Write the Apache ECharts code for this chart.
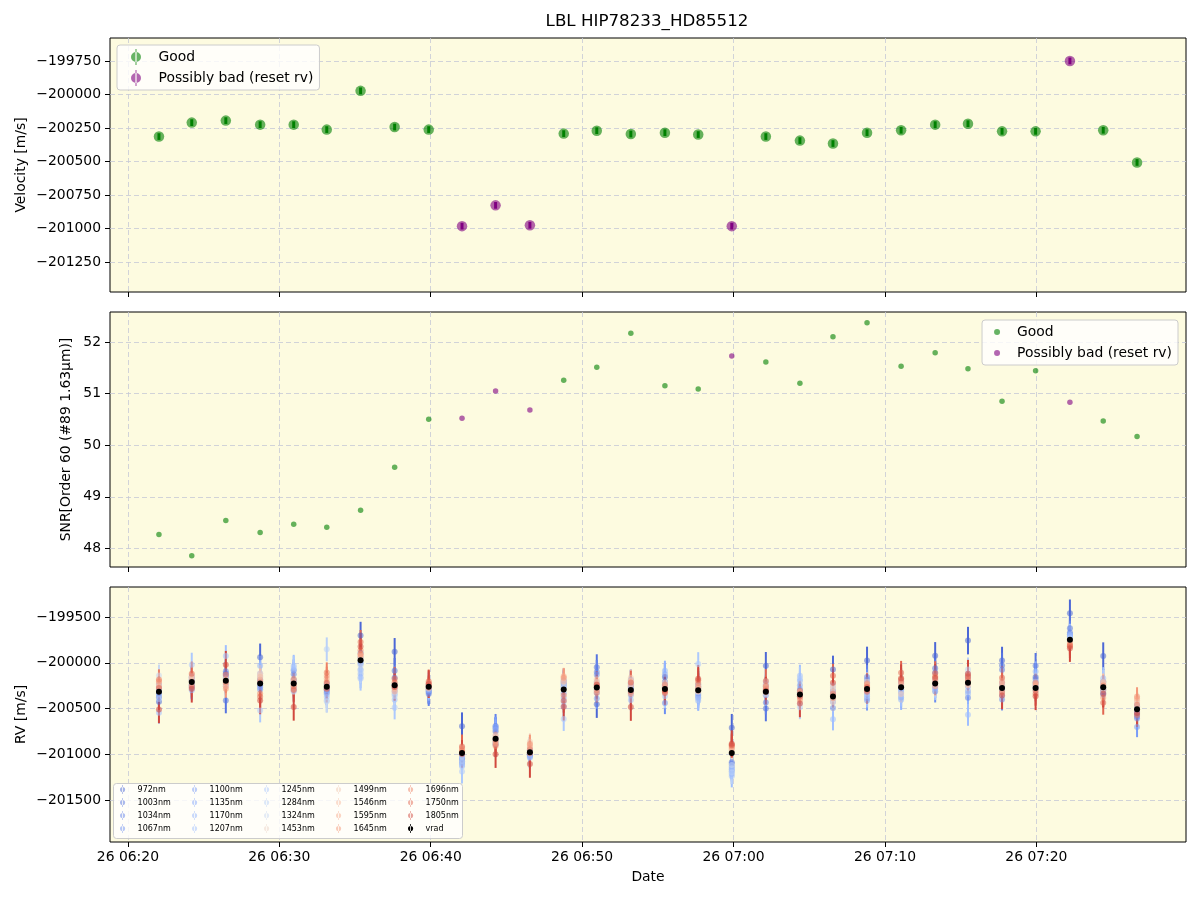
<!DOCTYPE html>
<html>
<head>
<meta charset="utf-8">
<title>LBL HIP78233_HD85512</title>
<script src="https://cdn.jsdelivr.net/npm/echarts@6/dist/echarts.min.js"></script>
<style>
  html, body { margin: 0; padding: 0; background: #fff; }
  #chart { width: 1200px; height: 900px; }
</style>
</head>
<body>
<div id="chart"></div>
<script>
// observation day / times (UTC)
var obsDay = 26;
var obsTimes = ['06:22:03', '06:24:13', '06:26:28', '06:28:44', '06:30:57', '06:33:08', '06:35:22', '06:37:37', '06:39:52', '06:42:04',
  '06:44:17', '06:46:33', '06:48:47', '06:50:58', '06:53:13', '06:55:28', '06:57:40', '06:59:53', '07:02:08', '07:04:23',
  '07:06:34', '07:08:49', '07:11:04', '07:13:19', '07:15:29', '07:17:44', '07:19:57', '07:22:13', '07:24:25', '07:26:39'];
// g = good, b = possibly bad (reset rv)
var flags = ['g', 'g', 'g', 'g', 'g', 'g', 'g', 'g', 'g', 'b', 'b', 'b', 'g', 'g', 'g', 'g', 'g', 'b', 'g', 'g',
  'g', 'g', 'g', 'g', 'g', 'g', 'g', 'b', 'g', 'g'];
var vrad = [-200314, -200210, -200195, -200225, -200225, -200262, -199973, -200243, -200262, -200982,
  -200827, -200975, -200292, -200270, -200295, -200285, -200299, -200982, -200314, -200344,
  -200366, -200285, -200267, -200225, -200218, -200275, -200275, -199750, -200267, -200507];
var vradErr = [25, 25, 25, 25, 25, 25, 25, 25, 25, 25, 25, 25, 25, 25, 25, 25, 25, 25, 25, 25,
  25, 25, 25, 25, 25, 25, 25, 25, 25, 25];
var snr = [48.27, 47.86, 48.54, 48.31, 48.47, 48.41, 48.74, 49.57, 50.50, 50.52, 51.05, 50.68, 51.26, 51.51, 52.17,
  51.15, 51.09, 51.73, 51.61, 51.20, 52.10, 52.37, 51.53, 51.79, 51.48, 50.85, 51.44, 50.83, 50.47, 50.17];

// per-wavelength RV, read as distance (m/s) from the vrad point of each epoch
var waves = [972, 1003, 1034, 1067, 1100, 1135, 1170, 1207, 1245, 1284, 1324, 1453, 1499, 1546, 1595, 1645, 1696, 1750, 1805];
var d972 = [-110, 20, 80, 285, 40, -30, 270, 363, -30, 292, 80, 20, 60, -180, 70, 130, 60, 275, 282, 20, 294, 311, 60, 301, 460, 300, 120, 290, 340, 30];
var d1003 = [-60, -40, -215, 40, 20, -60, 80, 156, -50, -60, -60, -30, 30, 223, 20, 80, 40, -100, -183, -20, 60, 70, 40, 167, 60, 245, 242, 127, 60, -40];
var d1034 = [-20, 50, 104, -20, 100, -10, 30, 80, -78, -90, 140, -40, 100, 170, 40, 40, 20, -120, -118, 40, 20, 130, 10, 120, -163, 200, 100, 80, -30, -80];
var d1067 = [78, -60, 40, -65, 142, 30, -40, 10, -60, -40, 115, -10, 80, 140, -10, -154, -40, -150, 40, 10, -127, 100, -20, -87, 20, -124, 60, 60, -60, -100];
var d1100 = [40, -30, 20, -40, -50, -40, -20, -30, -20, -110, 130, -20, -40, -120, 110, 20, -80, -180, -40, 60, -60, -125, -60, -50, -40, 30, 30, 54, -80, -193];
var d1135 = [10, 30, -40, 20, -80, 20, -100, -60, 10, -60, 100, 10, -90, -60, -20, 160, -60, -200, 10, 100, 10, -100, -110, 40, -90, -40, 10, 30, -20, -60];
var d1170 = [-30, -90, 60, 192, 150, -80, -150, -100, -40, -130, -40, -50, -130, 60, -60, 198, -114, -230, 80, 150, 40, -60, -136, 20, -120, -80, 180, 40, 40, -20];
var d1207 = [-229, 60, 268, 110, 192, -110, -184, -160, -10, -148, -20, -60, -180, 30, -110, -30, -90, -255, 60, 203, -250, -80, -90, -60, -348, 60, 70, 54, 100, 20];
var d1245 = [-80, 190, 30, -294, 170, -148, -200, -243, 20, -203, 30, 40, -320, -20, -40, -80, 285, -170, -20, 170, 120, -40, -40, -30, 100, -20, -20, 20, 60, 40];
var d1284 = [20, -20, -10, 60, -40, 409, -120, -120, 30, -90, -10, 20, 40, 10, 20, 50, 30, -210, 110, -140, 80, -20, 20, 10, 146, 10, 40, 10, 20, 60];
var d1324 = [175, 10, -60, 80, -90, -160, -60, -80, 10, -40, -50, -10, 20, -40, 60, 10, -20, -130, -30, -100, -30, 10, 40, -20, 70, -30, -30, -10, -10, 10];
var d1453 = [60, 40, 20, 90, 10, -20, 20, -30, -20, 40, 20, 60, 80, 20, 90, 70, 60, 30, 50, 30, -60, 80, 10, 30, -30, 40, 20, -20, 30, 30];
var d1499 = [120, 70, -30, 110, 30, 20, 50, 20, 20, 60, -30, 115, 120, 90, 132, 30, 40, 50, 20, -10, 100, 30, -74, 60, 10, 80, -10, -30, 49, 80];
var d1546 = [90, 50, 10, 70, -20, 60, 40, -40, 40, 20, 40, 80, 90, 60, 100, 10, 10, 40, 70, 20, 50, 50, 30, 40, -20, 20, 30, -10, 60, 100];
var d1595 = [50, 10, -60, 40, -60, 90, 70, -70, 30, 50, -40, 50, 147, 40, 50, -20, -10, 60, -10, -40, 10, 40, 70, 10, 40, -50, 50, -40, -30, 120];
var d1645 = [110, -30, -88, 20, 50, 120, 64, -10, 10, 30, -60, 90, 130, -30, -42, -30, 30, 70, 30, -60, -20, 60, 50, -30, 80, 60, 61, -50, -114, 141];
var d1696 = [133, -50, -20, -110, -30, 157, 110, 30, -10, 10, -80, 30, -60, -56, -20, 49, 80, 90, 60, 40, 30, -10, 86, 80, 30, -40, -30, -60, 20, 50];
var d1750 = [40, 92, 65, -145, -70, 44, 201, 69, 59, 71, -10, -10, -121, 10, 80, -45, 110, 83, 115, -20, 225, -30, 158, 112, 66, 112, -62, -70, -168, -62];
var d1805 = [-194, -73, 175, -185, -255, -20, 150, -20, 30, -10, -168, -127, -186, 30, -187, -10, 125, 100, 10, -99, 150, 20, 100, 60, 100, -80, -90, -90, -70, -40];
var waveOffsets = [d972, d1003, d1034, d1067, d1100, d1135, d1170, d1207, d1245, d1284, d1324, d1453, d1499, d1546, d1595, d1645, d1696, d1750, d1805];
var waveErr = [150, 140, 130, 120, 110, 110, 110, 120, 130, 130, 120, 100, 90, 90, 90, 100, 110, 130, 150];

// axis ticks
var xTickLabels = ['06:20', '06:30', '06:40', '06:50', '07:00', '07:10', '07:20'];
var xRange = ['06:18:49', '07:29:53'];
var velTicks = [-201250, -201000, -200750, -200500, -200250, -200000, -199750];
var velRange = [-201473, -199579];
var snrTicks = [48, 49, 50, 51, 52];
var snrRange = [47.64, 52.58];
var rvTicks = [-201500, -201000, -200500, -200000, -199500];
var rvRange = [-201952, -199174];

// coolwarm colour map stops
var coolwarm = [[59,76,192],[68,90,204],[77,104,215],[87,117,225],[98,130,234],[108,142,241],[119,154,247],[130,165,251],
  [141,176,254],[152,185,255],[163,194,255],[174,201,253],[184,208,249],[194,213,244],[204,217,238],[213,219,230],
  [221,221,221],[229,216,209],[236,211,197],[241,204,184],[245,196,172],[247,187,160],[247,177,148],[247,166,137],
  [244,154,123],[241,141,112],[236,127,99],[229,112,88],[222,96,77],[213,80,66],[203,62,56],[192,40,47],[180,4,38]];

function cmap(f) {
  var p = f * (coolwarm.length - 1);
  var i = Math.min(Math.floor(p), coolwarm.length - 2);
  var t = p - i, a = coolwarm[i], b = coolwarm[i + 1];
  return 'rgb(' + [0, 1, 2].map(function (k) { return Math.round(a[k] + (b[k] - a[k]) * t); }).join(',') + ')';
}

function toMs(hms) {
  var p = hms.split(':');
  return Date.UTC(2023, 0, obsDay, +p[0], +p[1], +(p[2] || 0));
}
function pad(n) { return (n < 10 ? '0' : '') + n; }
function fmtTime(v) {
  var d = new Date(v);
  return d.getUTCDate() + ' ' + pad(d.getUTCHours()) + ':' + pad(d.getUTCMinutes());
}
function fmtNum(v) { return v < 0 ? '\u2212' + Math.abs(v) : String(v); }

var tMs = obsTimes.map(toMs);
var xTicks = xTickLabels.map(toMs);

var FONT = 'DejaVu Sans';
var gridLine = { show: true, lineStyle: { color: '#c5c9d6', type: [5, 3], width: 0.8 } };
var ebIcon = 'path://M4.4,0h1.2v16h-1.2z M0,8a5,5 0 1,0 10,0a5,5 0 1,0 -10,0z';
var ebIconSmall = 'path://M4.4,0h1.2v14h-1.2z M1,7a4,4 0 1,0 8,0a4,4 0 1,0 -8,0z';

function makeX(idx, labels) {
  return {
    type: 'value', gridIndex: idx, min: toMs(xRange[0]), max: toMs(xRange[1]),
    axisLine: { show: false },
    axisTick: { show: true, customValues: xTicks, length: 5, lineStyle: { color: '#000' } },
    axisLabel: { show: labels, customValues: xTicks, formatter: fmtTime, margin: 8, color: '#000', fontSize: 13.9, fontFamily: FONT },
    splitLine: gridLine,
    name: labels ? 'Date' : '', nameLocation: 'middle', nameGap: 28, nameMoveOverlap: false,
    nameTextStyle: { color: '#000', fontSize: 13.9, fontFamily: FONT }
  };
}
function makeY(idx, range, ticks, name, gap) {
  return {
    type: 'value', gridIndex: idx, min: range[0], max: range[1],
    axisLine: { show: false },
    axisTick: { show: true, customValues: ticks, length: 5, lineStyle: { color: '#000' } },
    axisLabel: { customValues: ticks, formatter: fmtNum, margin: 9, color: '#000', fontSize: 13.9, fontFamily: FONT },
    splitLine: gridLine,
    name: name, nameLocation: 'middle', nameGap: gap, nameMoveOverlap: false,
    nameTextStyle: { color: '#000', fontSize: 13.9, fontFamily: FONT }
  };
}

function errRender(lw) {
  return function (params, api) {
    var a = api.coord([api.value(0), api.value(1)]);
    var b = api.coord([api.value(0), api.value(2)]);
    return {
      type: 'line',
      shape: { x1: a[0], y1: a[1], x2: b[0], y2: b[1] },
      style: { stroke: api.visual('color'), lineWidth: lw, opacity: api.visual('opacity') }
    };
  };
}

var series = [];

// panel 1 and 2: good / bad
[['g', 'Good', 'green'], ['b', 'Possibly bad (reset rv)', 'purple']].forEach(function (q) {
  var pts = [], ebs = [], sn = [];
  tMs.forEach(function (t, i) {
    if (flags[i] !== q[0]) return;
    pts.push([t, vrad[i]]);
    ebs.push([t, vrad[i] - vradErr[i], vrad[i] + vradErr[i]]);
    sn.push([t, snr[i]]);
  });
  series.push({
    name: q[1], type: 'scatter', xAxisIndex: 0, yAxisIndex: 0, symbolSize: 10.5,
    itemStyle: { color: q[2], opacity: 0.6 }, data: pts, z: 3
  });
  series.push({
    name: q[1], type: 'custom', xAxisIndex: 0, yAxisIndex: 0, renderItem: errRender(3),
    itemStyle: { color: q[2], opacity: 0.6 }, data: ebs, z: 3
  });
  series.push({
    name: q[1], type: 'scatter', xAxisIndex: 1, yAxisIndex: 1, symbolSize: 5.5,
    itemStyle: { color: q[2], opacity: 0.6 }, data: sn, z: 3
  });
});

// panel 3: per-wavelength RV (colour map slightly inset from its ends)
waves.forEach(function (w, k) {
  var f = (w - waves[0]) / (waves[waves.length - 1] - waves[0]);
  var col = cmap(0.06 + 0.86 * f);
  var pts = [], ebs = [];
  tMs.forEach(function (t, i) {
    var v = vrad[i] + waveOffsets[k][i];
    pts.push([t, v]);
    ebs.push([t, v - waveErr[k], v + waveErr[k]]);
  });
  series.push({
    name: w + 'nm', type: 'custom', xAxisIndex: 2, yAxisIndex: 2, renderItem: errRender(2),
    itemStyle: { color: col, opacity: 0.5 }, data: ebs, z: 2
  });
  series.push({
    name: w + 'nm', type: 'scatter', xAxisIndex: 2, yAxisIndex: 2, symbolSize: 6,
    itemStyle: { color: col, opacity: 0.55 }, data: pts, z: 2
  });
});
series.push({
  name: 'vrad', type: 'custom', xAxisIndex: 2, yAxisIndex: 2, renderItem: errRender(2),
  itemStyle: { color: '#000', opacity: 1 }, z: 2,
  data: tMs.map(function (t, i) { return [t, vrad[i] - vradErr[i], vrad[i] + vradErr[i]]; })
});
series.push({
  name: 'vrad', type: 'scatter', xAxisIndex: 2, yAxisIndex: 2, symbolSize: 6,
  itemStyle: { color: '#000', opacity: 1 }, z: 2,
  data: tMs.map(function (t, i) { return [t, vrad[i]]; })
});

// bottom legend: 5 columns, column-major like matplotlib
var legendNames = waves.map(function (w) { return w + 'nm'; }).concat(['vrad']);
var bottomLegends = [];
for (var c = 0; c < 5; c++) {
  bottomLegends.push({
    orient: 'vertical', left: 120 + c * 72, top: 785, padding: 0, itemGap: 4,
    itemWidth: 20, itemHeight: 9, icon: ebIconSmall,
    textStyle: { fontSize: 8, fontFamily: FONT, color: '#000' },
    data: legendNames.slice(c * 4, c * 4 + 4)
  });
}

var legendBox = {
  backgroundColor: 'rgba(255,255,255,0.8)', borderColor: '#cccccc', borderWidth: 1, borderRadius: 3
};

var chart = echarts.init(document.getElementById('chart'), null, { renderer: 'canvas' });
chart.setOption({
  animation: false,
  backgroundColor: '#fff',
  title: {
    text: 'LBL HIP78233_HD85512', left: 647, top: 13, textAlign: 'center', padding: 0,
    textStyle: { fontSize: 16.7, fontWeight: 'normal', color: '#000', fontFamily: FONT }
  },
  grid: [
    { left: 110, width: 1076, top: 38, height: 254, show: true, backgroundColor: '#fdfbe0', borderColor: '#000', borderWidth: 1, containLabel: false, outerBoundsMode: 'none' },
    { left: 110, width: 1076, top: 312, height: 255, show: true, backgroundColor: '#fdfbe0', borderColor: '#000', borderWidth: 1, containLabel: false, outerBoundsMode: 'none' },
    { left: 110, width: 1076, top: 587, height: 255, show: true, backgroundColor: '#fdfbe0', borderColor: '#000', borderWidth: 1, containLabel: false, outerBoundsMode: 'none' }
  ],
  xAxis: [makeX(0, false), makeX(1, false), makeX(2, true)],
  yAxis: [
    makeY(0, velRange, velTicks, 'Velocity [m/s]', 82),
    makeY(1, snrRange, snrTicks, 'SNR[Order 60 (#89 1.63\u03bcm)]', 37),
    makeY(2, rvRange, rvTicks, 'RV [m/s]', 82)
  ],
  legend: [
    Object.assign({
      orient: 'vertical', left: 117, top: 45, padding: [4, 6, 4, 14], itemGap: 5,
      itemWidth: 35, itemHeight: 16, icon: ebIcon,
      textStyle: { fontSize: 13.9, fontFamily: FONT, color: '#000' },
      data: ['Good', 'Possibly bad (reset rv)']
    }, legendBox),
    Object.assign({
      orient: 'vertical', right: 22, top: 320, padding: [5, 6, 5, 12], itemGap: 7,
      itemWidth: 30, itemHeight: 6, icon: 'circle',
      textStyle: { fontSize: 13.9, fontFamily: FONT, color: '#000' },
      data: ['Good', 'Possibly bad (reset rv)']
    }, legendBox)
  ].concat(bottomLegends),
  graphic: [{
    type: 'rect', z: 3, shape: { x: 113.5, y: 783.5, width: 349, height: 55, r: 3 },
    style: { fill: 'rgba(255,255,255,0.8)', stroke: '#cccccc', lineWidth: 1 }
  }],
  series: series
});
</script>
</body>
</html>
